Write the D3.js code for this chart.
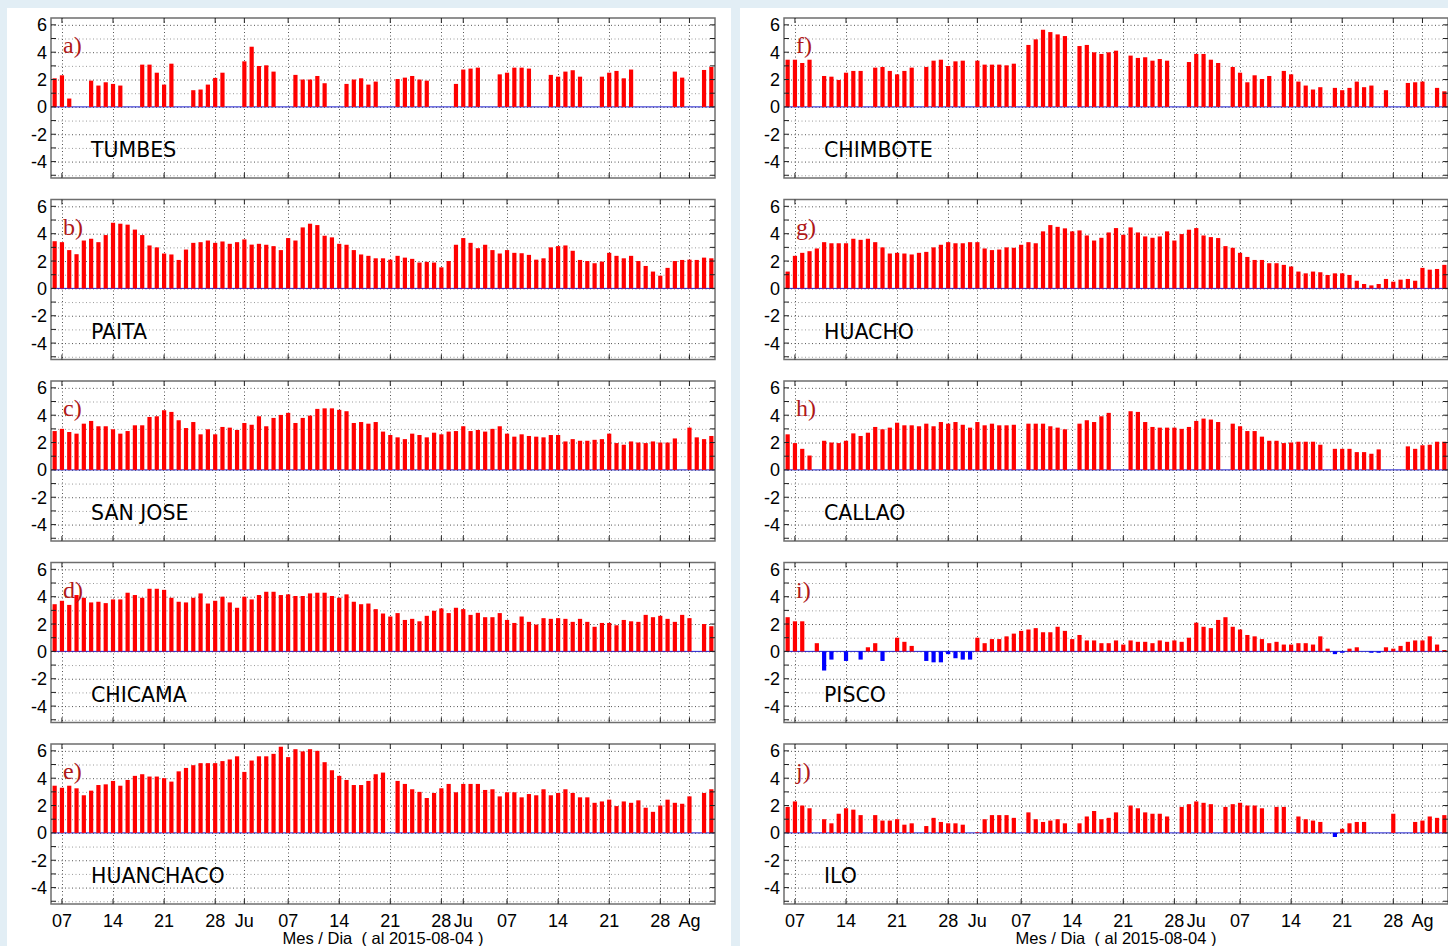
<!DOCTYPE html>
<html>
<head>
<meta charset="utf-8">
<script src="https://cdn.jsdelivr.net/npm/d3@7"></script>
<style>
  body { margin: 0; background: #e2eef5; }
  svg { display: block; }
</style>
</head>
<body>
<div id="chart"></div>
<script>
// daily values, 2015-05-06 .. 2015-08-04 (null = no data)
const tumbes = [2.09,2.31,0.61,null,null,1.92,1.56,1.8,1.68,1.56,null,null,3.09,3.09,2.5,1.63,3.16,null,null,1.22,
  1.27,1.63,2.12,2.5,null,null,3.33,4.4,2.99,3.04,2.58,null,null,2.34,2.0,2.0,2.26,1.73,null,null,
  1.68,2.0,2.09,1.63,1.85,null,null,2.04,2.14,2.26,2.0,1.92,null,null,null,1.68,2.73,2.8,2.87,null,
  null,2.38,2.5,2.87,2.87,2.8,null,null,2.34,2.21,2.58,2.68,2.21,null,null,2.21,2.5,2.63,2.09,2.73,
  null,null,null,null,null,2.58,2.14,null,null,2.7,2.92];
const paita = [3.45,3.38,2.8,2.5,3.5,3.63,3.38,3.9,4.8,4.73,4.66,4.3,3.9,3.14,3.0,2.55,2.48,2.08,2.84,3.33,
  3.38,3.5,3.33,3.43,3.26,3.38,3.58,3.2,3.26,3.19,3.09,2.8,3.68,3.5,4.46,4.73,4.63,3.85,3.73,3.26,
  3.19,2.8,2.48,2.38,2.2,2.2,2.1,2.38,2.25,2.16,1.89,1.94,1.89,1.54,2.0,3.19,3.68,3.33,2.94,3.19,
  2.8,2.55,2.8,2.6,2.57,2.45,2.1,2.2,3.0,3.09,3.14,2.75,2.08,2.0,1.84,1.96,2.6,2.38,2.2,2.38,
  2.0,1.64,1.23,0.93,1.5,2.0,2.08,2.1,2.08,2.25,2.2];
const sanJose = [2.84,3.0,2.77,2.65,3.38,3.58,3.19,3.19,2.97,2.65,2.84,3.26,3.26,3.87,3.92,4.36,4.24,3.63,3.06,3.5,
  2.6,2.97,2.6,3.14,3.09,2.92,3.43,3.3,3.92,3.19,3.8,4.02,4.17,3.43,3.8,3.97,4.46,4.5,4.5,4.39,
  4.29,3.43,3.5,3.38,3.5,2.8,2.55,2.38,2.25,2.65,2.55,2.38,2.72,2.6,2.8,2.84,3.19,2.84,2.92,2.8,
  3.0,3.19,2.65,2.43,2.6,2.48,2.43,2.38,2.55,2.55,2.08,2.25,2.13,2.13,2.2,2.25,2.65,1.96,1.84,2.08,
  2.0,1.96,2.08,2.0,2.0,2.3,null,3.09,2.38,2.25,2.48];
const chicama = [3.45,3.7,3.4,4.12,3.92,3.58,3.63,3.53,3.8,3.8,4.29,4.12,3.92,4.58,4.58,4.5,3.92,3.63,3.58,3.92,
  4.24,3.5,3.7,4.0,3.58,3.19,4.0,3.8,4.12,4.36,4.36,4.12,4.17,4.05,4.05,4.24,4.29,4.29,4.05,3.92,
  4.17,3.63,3.45,3.5,3.09,2.77,2.55,2.8,2.3,2.38,2.2,2.6,2.97,3.14,2.8,3.19,3.09,2.67,2.82,2.5,
  2.5,2.8,2.3,2.08,2.55,2.16,1.96,2.43,2.38,2.43,2.38,2.16,2.38,2.16,1.8,2.08,2.08,1.91,2.3,2.2,
  2.16,2.67,2.5,2.6,2.38,2.16,2.67,2.43,null,2.0,1.84];
const huanchaco = [3.45,3.3,3.45,3.26,2.75,3.09,3.5,3.55,3.8,3.45,3.87,4.17,4.29,4.12,4.12,4.0,3.75,4.5,4.75,4.95,
  5.1,5.1,5.1,5.25,5.37,5.6,4.46,5.29,5.6,5.6,5.78,6.3,5.54,6.12,5.96,6.12,6.0,5.17,4.58,4.17,
  3.87,3.5,3.5,3.8,4.29,4.41,null,3.8,3.58,3.19,3.0,2.55,2.92,3.26,3.58,2.97,3.58,3.58,3.58,3.14,
  3.19,2.67,2.97,2.97,2.6,2.84,2.75,3.19,2.75,2.92,3.19,2.92,2.6,2.6,2.2,2.3,2.43,1.96,2.3,2.2,
  2.38,1.84,1.54,2.0,2.43,2.2,2.13,2.67,null,2.92,3.19];
const chimbote = [3.45,3.45,3.21,3.45,null,2.26,2.21,1.97,2.5,2.63,2.63,null,2.87,2.92,2.63,2.38,2.63,2.87,null,2.92,
  3.38,3.45,2.99,3.33,3.38,null,3.38,3.09,3.09,3.09,3.04,3.16,null,4.53,4.94,5.64,5.47,5.3,5.18,null,
  4.45,4.53,3.99,3.87,3.99,4.11,null,3.75,3.58,3.63,3.38,3.5,3.38,null,null,3.28,3.87,3.87,3.45,3.21,
  null,2.92,2.5,1.8,2.31,2.04,2.26,null,2.63,2.38,1.85,1.56,1.27,1.44,null,1.39,1.22,1.39,1.85,1.44,
  1.56,null,1.22,null,null,1.75,1.8,1.85,null,1.39,1.14];
const huacho = [1.23,2.38,2.6,2.72,2.92,3.38,3.3,3.3,3.3,3.63,3.55,3.63,3.38,3.0,2.55,2.6,2.55,2.48,2.6,2.67,
  3.0,3.19,3.38,3.3,3.3,3.38,3.38,2.92,2.8,2.84,3.0,2.97,3.19,3.38,3.3,4.17,4.63,4.5,4.39,4.17,
  4.24,3.87,3.5,3.7,4.09,4.41,3.92,4.46,4.09,3.8,3.7,3.8,4.17,3.5,3.97,4.29,4.41,3.87,3.75,3.68,
  3.09,2.97,2.6,2.3,2.08,2.08,1.84,1.84,1.72,1.6,1.23,1.1,1.23,1.18,0.98,1.1,1.1,0.98,0.56,0.32,
  0.22,0.32,0.69,0.49,0.64,0.69,0.56,1.5,1.37,1.42,1.72];
const callao = [2.6,1.96,1.54,1.05,null,2.13,2.0,1.96,2.13,2.67,2.48,2.72,3.14,2.97,3.09,3.45,3.26,3.26,3.19,3.38,
  3.19,3.5,3.38,3.5,3.3,3.09,3.5,3.26,3.38,3.26,3.26,3.3,null,3.38,3.38,3.38,3.19,3.09,2.97,null,
  3.38,3.63,3.5,3.92,4.17,null,null,4.29,4.24,3.5,3.14,3.09,3.09,3.09,3.0,3.14,3.58,3.75,3.68,3.5,
  null,3.38,3.19,2.84,2.84,2.43,2.13,2.13,1.96,2.0,2.06,2.06,2.06,1.84,null,1.54,1.54,1.54,1.3,1.3,
  1.18,1.5,null,null,null,1.72,1.54,1.8,1.84,2.06,2.06];
const pisco = [2.5,2.2,2.2,null,0.6,-1.4,-0.6,null,-0.7,null,-0.6,0.3,0.6,-0.7,null,1.0,0.7,0.4,null,-0.7,
  -0.8,-0.8,-0.2,-0.5,-0.6,-0.6,1.0,0.6,0.9,0.9,1.1,1.3,1.5,1.6,1.7,1.4,1.4,1.8,1.5,0.9,
  1.2,0.8,0.8,0.6,0.6,0.8,0.5,0.8,0.7,0.7,0.6,0.8,0.7,0.8,0.7,1.0,2.1,1.8,1.7,2.3,
  2.5,1.8,1.6,1.2,1.1,0.9,0.6,0.7,0.5,0.5,0.6,0.6,0.5,1.1,0.2,-0.2,-0.1,0.2,0.3,null,
  -0.1,-0.1,0.3,0.2,0.4,0.7,0.8,0.8,1.1,0.5,0.1];
const ilo = [1.9,2.3,2.0,1.8,null,1.0,0.7,1.4,1.8,1.7,1.3,null,1.3,0.9,0.9,1.0,0.6,0.7,null,0.5,
  1.1,0.8,0.7,0.7,0.6,null,0.05,1.0,1.3,1.3,1.3,1.1,null,1.5,1.0,0.8,0.9,1.0,0.7,null,
  0.7,1.2,1.6,1.0,1.1,1.5,null,2.0,1.8,1.5,1.4,1.4,1.2,null,1.9,2.1,2.3,2.2,2.1,null,
  1.9,2.1,2.2,2.0,2.0,1.8,null,1.9,1.9,null,1.2,1.0,0.9,0.8,null,-0.3,0.3,0.7,0.8,0.8,
  null,null,null,1.4,null,null,0.8,0.9,1.2,1.1,1.3];

const stations = ["TUMBES", "PAITA", "SAN JOSE", "CHICAMA", "HUANCHACO",
                  "CHIMBOTE", "HUACHO", "CALLAO", "PISCO", "ILO"];
const letters = ["a)", "b)", "c)", "d)", "e)", "f)", "g)", "h)", "i)", "j)"];
const series = [tumbes, paita, sanJose, chicama, huanchaco, chimbote, huacho, callao, pisco, ilo];

// x ticks: day index from 2015-05-06
const tickDays   = [1, 8, 15, 22, 26, 32, 39, 46, 53, 56, 62, 69, 76, 83, 87];
const tickLabels = ["07", "14", "21", "28", "Ju", "07", "14", "21", "28", "Ju", "07", "14", "21", "28", "Ag"];
const yTicks = [6, 4, 2, 0, -2, -4];
const yGrid = d3.range(-5, 7);
const xTitle = "Mes / Dia  ( al 2015-08-04 )";

const W = 1448, H = 946;
const pw = 664, ph = 160;
const colX = [51, 784];
const rowY = i => 18 + i * 181.5;

const svg = d3.select('#chart').append('svg')
  .attr('width', W).attr('height', H);

svg.append('rect').attr('width', W).attr('height', H).attr('fill', '#e2eef5');
svg.append('rect').attr('x', 7).attr('y', 8).attr('width', 724).attr('height', H - 8).attr('fill', '#fff');
svg.append('rect').attr('x', 740).attr('y', 8).attr('width', W - 740).attr('height', H - 8).attr('fill', '#fff');

const x = d3.scaleLinear().domain([-0.5, 90.5]).range([0, pw]);
const y = d3.scaleLinear().domain([-5.2, 6.5]).range([ph, 0]);
const bw = 4.2;
const sans = "'Liberation Sans', Arial, sans-serif";

series.forEach((data, k) => {
  const col = k < 5 ? 0 : 1, row = k % 5;
  const g = svg.append('g').attr('transform', `translate(${colX[col]},${rowY(row)})`);

  // grid
  g.selectAll('line.hg').data(yGrid).join('line')
    .attr('x1', 0).attr('x2', pw)
    .attr('y1', d => y(d) + 0.5).attr('y2', d => y(d) + 0.5)
    .attr('stroke', d => d % 2 ? '#9a9a9a' : '#555')
    .attr('stroke-width', 1).attr('stroke-dasharray', '1,2.5');
  g.selectAll('line.vg').data(tickDays).join('line')
    .attr('x1', d => Math.round(x(d)) + 0.5).attr('x2', d => Math.round(x(d)) + 0.5)
    .attr('y1', 0).attr('y2', ph)
    .attr('stroke', '#555').attr('stroke-width', 1).attr('stroke-dasharray', '1,2.5');

  // zero line
  g.append('line').attr('x1', 0).attr('x2', pw)
    .attr('y1', y(0)).attr('y2', y(0))
    .attr('stroke', '#2020d0').attr('stroke-width', 1);

  // bars
  const pts = data.map((v, i) => ({ i, v })).filter(d => d.v != null);
  g.selectAll('rect.bar').data(pts).join('rect')
    .attr('x', d => x(d.i) - bw / 2)
    .attr('width', bw)
    .attr('y', d => y(Math.max(0, d.v)))
    .attr('height', d => Math.abs(y(d.v) - y(0)))
    .attr('fill', d => d.v < 0 ? '#0000ff' : '#ff0000');

  // frame
  g.append('rect').attr('width', pw).attr('height', ph)
    .attr('fill', 'none').attr('stroke', '#6e6e6e').attr('stroke-width', 1.5);

  // ticks
  g.selectAll('line.yl').data(yGrid).join('line')
    .attr('x1', 0).attr('x2', 5).attr('y1', d => y(d)).attr('y2', d => y(d))
    .attr('stroke', '#222');
  g.selectAll('line.yr').data(yGrid).join('line')
    .attr('x1', pw - 5).attr('x2', pw).attr('y1', d => y(d)).attr('y2', d => y(d))
    .attr('stroke', '#222');
  g.selectAll('line.xt').data(tickDays).join('line')
    .attr('x1', d => x(d)).attr('x2', d => x(d)).attr('y1', 0).attr('y2', 5)
    .attr('stroke', '#222');
  g.selectAll('line.xb').data(tickDays).join('line')
    .attr('x1', d => x(d)).attr('x2', d => x(d)).attr('y1', ph - 5).attr('y2', ph)
    .attr('stroke', '#222');

  g.selectAll('text.yt').data(yTicks).join('text')
    .attr('x', -4).attr('y', d => y(d) + 6.5)
    .attr('text-anchor', 'end')
    .attr('font-family', sans).attr('font-size', 18).attr('fill', '#000')
    .text(d => d);

  g.append('text').attr('x', 12).attr('y', 35)
    .attr('font-family', "'Liberation Serif', 'Times New Roman', serif")
    .attr('font-size', 24).attr('fill', '#b01818')
    .text(letters[k]);

  g.append('text').attr('x', 40).attr('y', 139)
    .attr('font-family', "'DejaVu Sans', Verdana, sans-serif")
    .attr('font-size', 20.5).attr('fill', '#000')
    .text(stations[k]);

  if (row === 4) {
    g.selectAll('text.xl').data(tickDays).join('text')
      .attr('x', (d, i) => x(d))
      .attr('y', ph + 23)
      .attr('text-anchor', 'middle')
      .attr('font-family', sans).attr('font-size', 18).attr('fill', '#000')
      .text((d, i) => tickLabels[i]);
    g.append('text').attr('x', pw / 2).attr('y', ph + 40)
      .attr('text-anchor', 'middle')
      .style('white-space', 'pre')
      .attr('font-family', sans).attr('font-size', 16.5).attr('fill', '#000')
      .text(xTitle);
  }
});
</script>
</body>
</html>
